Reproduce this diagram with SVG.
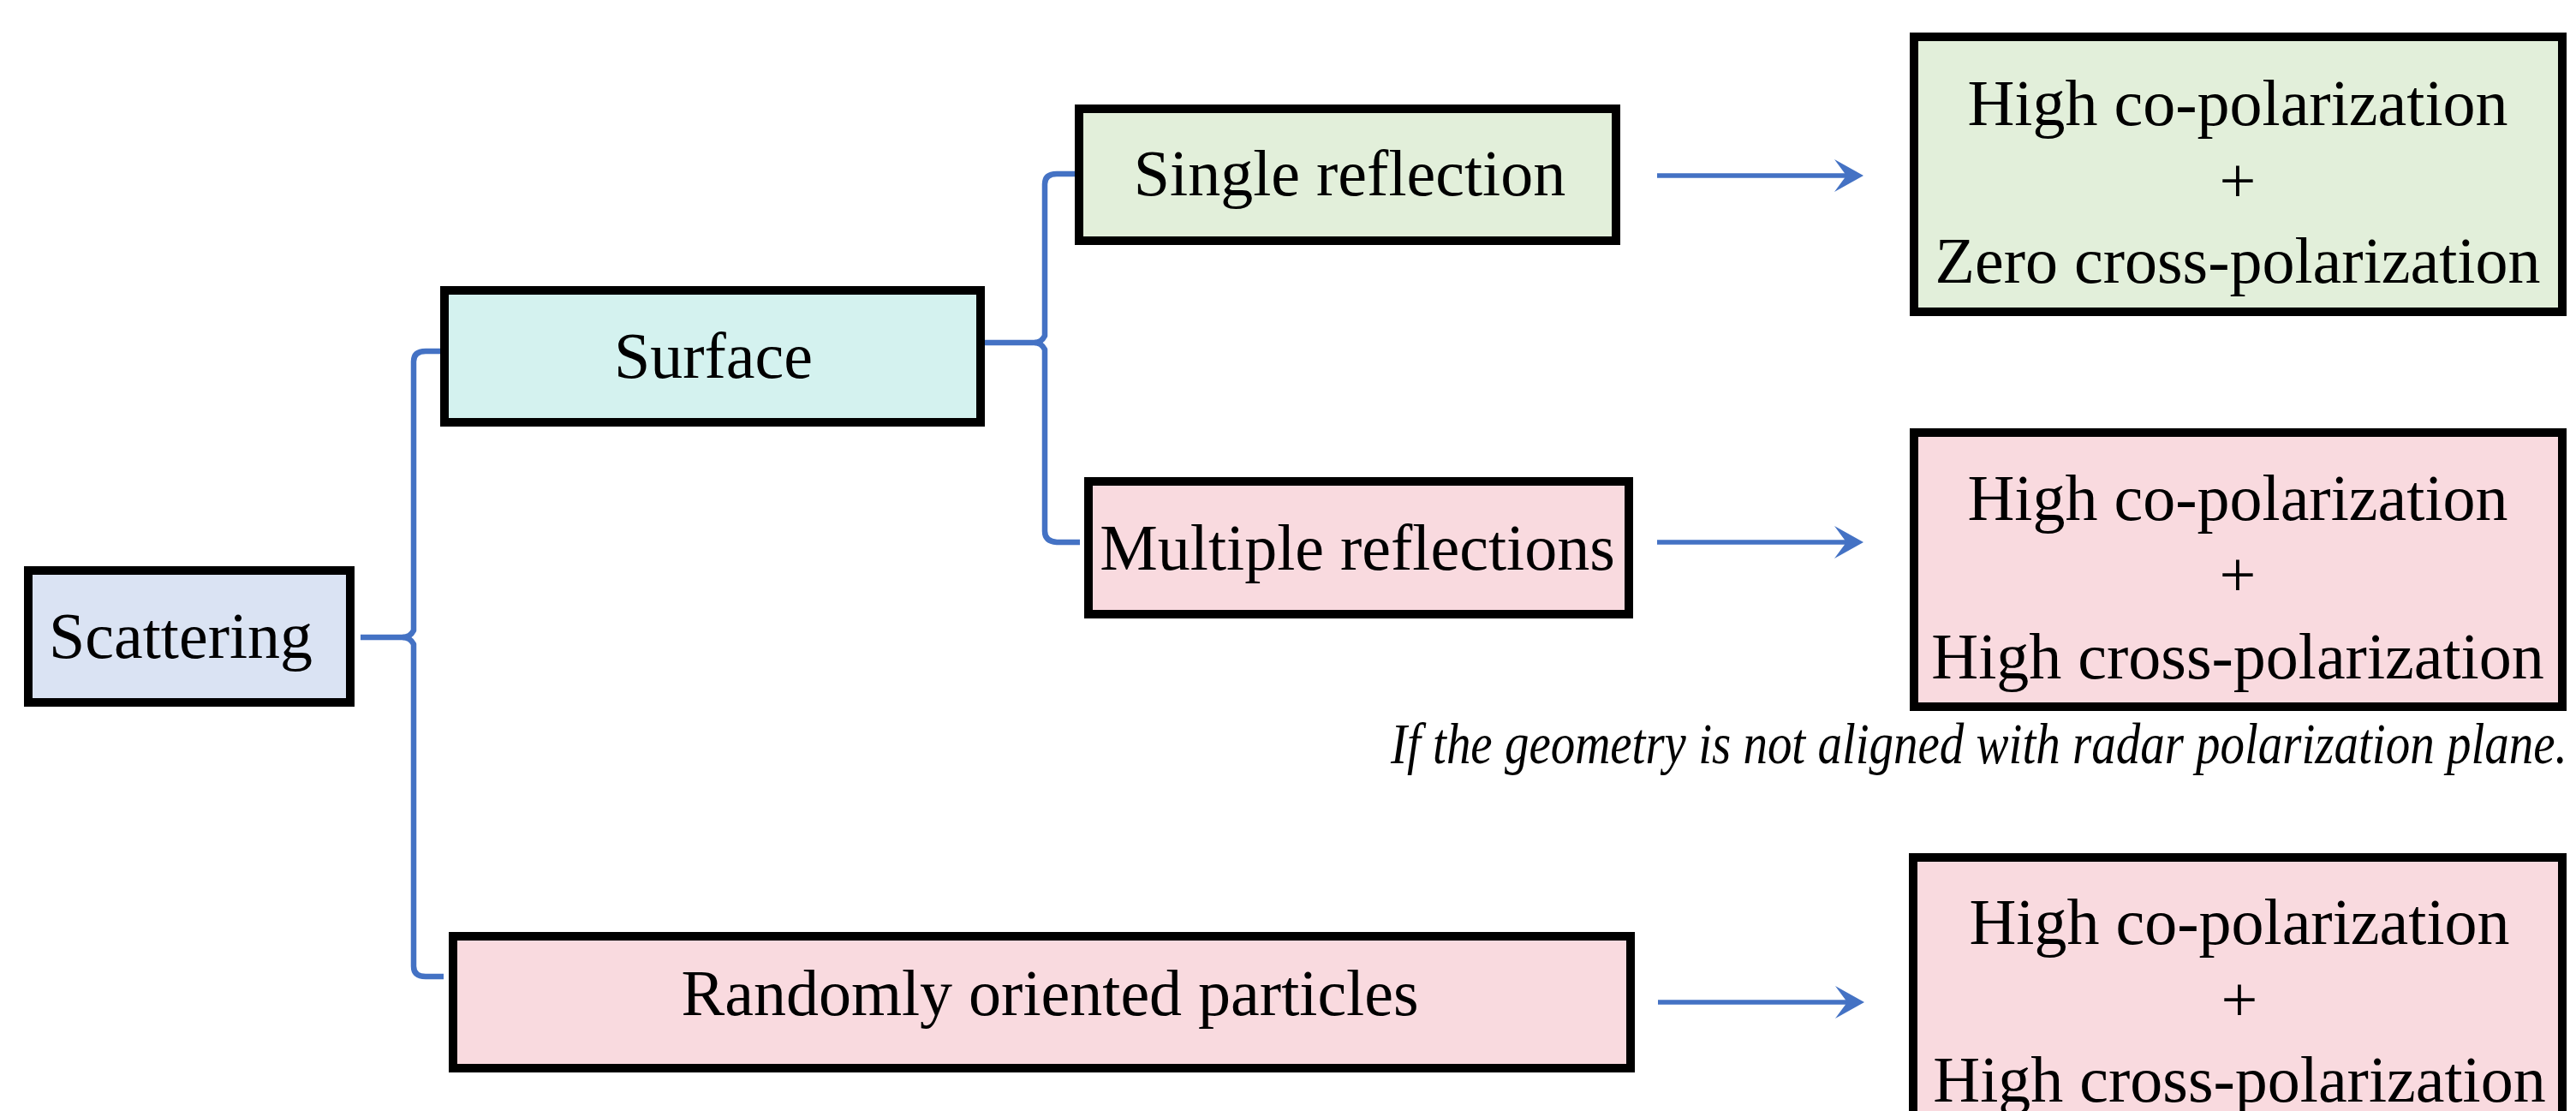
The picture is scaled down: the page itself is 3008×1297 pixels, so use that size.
<svg xmlns="http://www.w3.org/2000/svg" width="3008" height="1297" viewBox="0 0 3008 1297">
  <style>
    .box { stroke: #000; stroke-width: 10; }
    .blue { fill: #DAE3F3; }
    .teal { fill: #D4F2EF; }
    .green { fill: #E2EFDA; }
    .pink { fill: #F9DADF; }
    .t { font-family: "Liberation Serif", "Times New Roman", serif; font-size: 76px; fill: #000; text-anchor: middle; }
    .note { font-family: "Liberation Serif", "Times New Roman", serif; font-size: 57px; font-style: italic; fill: #000; }
    .con { fill: none; stroke: #4472C4; stroke-width: 6.5; stroke-linejoin: round; }
    .arr { fill: none; stroke: #4472C4; stroke-width: 5.5; }
  </style>
  <defs>
    <marker id="ah" markerUnits="userSpaceOnUse" markerWidth="40" markerHeight="40" refX="14" refY="19" orient="auto">
      <path d="M0,0 L34,19 L0,38 L14,19 Z" fill="#4472C4"/>
    </marker>
  </defs>
  <rect width="3008" height="1297" fill="#fff"/>

  <g id="connectors">
    <path class="con" d="M421,744 L470,744 Q479,744 483,736 L483,422 Q483,410 497,410 L515,410"/>
    <path class="con" d="M470,744 Q479,744 483,752 L483,1128 Q483,1140 497,1140 L518,1140"/>
    <path class="con" d="M1150,400 L1208,400 Q1216,400 1220,392 L1220,215 Q1220,203 1234,203 L1256,203"/>
    <path class="con" d="M1208,400 Q1216,400 1220,408 L1220,620 Q1220,632 1234,633 L1261,633"/>
    <line class="arr" x1="1935" y1="205" x2="2156" y2="205" marker-end="url(#ah)"/>
    <line class="arr" x1="1935" y1="633" x2="2156" y2="633" marker-end="url(#ah)"/>
    <line class="arr" x1="1936" y1="1170" x2="2157" y2="1170" marker-end="url(#ah)"/>
  </g>

  <g id="scattering">
    <rect class="box blue" x="33" y="666" width="376" height="154"/>
    <text class="t" x="211" y="768">Scattering</text>
  </g>
  <g id="surface">
    <rect class="box teal" x="519" y="339" width="626" height="154"/>
    <text class="t" x="833" y="441">Surface</text>
  </g>
  <g id="single">
    <rect class="box green" x="1260" y="127" width="627" height="154"/>
    <text class="t" x="1576" y="228">Single reflection</text>
  </g>
  <g id="multiple">
    <rect class="box pink" x="1271" y="562" width="631" height="155"/>
    <text class="t" x="1585" y="665">Multiple reflections</text>
  </g>
  <g id="random">
    <rect class="box pink" x="529" y="1093" width="1375" height="154"/>
    <text class="t" x="1226" y="1185">Randomly oriented particles</text>
  </g>
  <g id="result1">
    <rect class="box green" x="2235" y="43" width="757" height="321"/>
    <text class="t" x="2613" y="146">High co-polarization</text>
    <text class="t" x="2613" y="236">+</text>
    <text class="t" x="2613" y="330">Zero cross-polarization</text>
  </g>
  <g id="result2">
    <rect class="box pink" x="2235" y="505" width="757" height="320"/>
    <text class="t" x="2613" y="607">High co-polarization</text>
    <text class="t" x="2613" y="696">+</text>
    <text class="t" x="2613" y="792">High cross-polarization</text>
  </g>
  <g id="result3">
    <rect class="box pink" x="2234" y="1001" width="758" height="400"/>
    <text class="t" x="2615" y="1102">High co-polarization</text>
    <text class="t" x="2615" y="1192">+</text>
    <text class="t" x="2615" y="1286">High cross-polarization</text>
  </g>
  <g id="note">
    <text class="note" transform="translate(1624,891) scale(1,1.19)" x="0" y="0">If the geometry is not aligned with radar polarization plane.</text>
  </g>
</svg>
